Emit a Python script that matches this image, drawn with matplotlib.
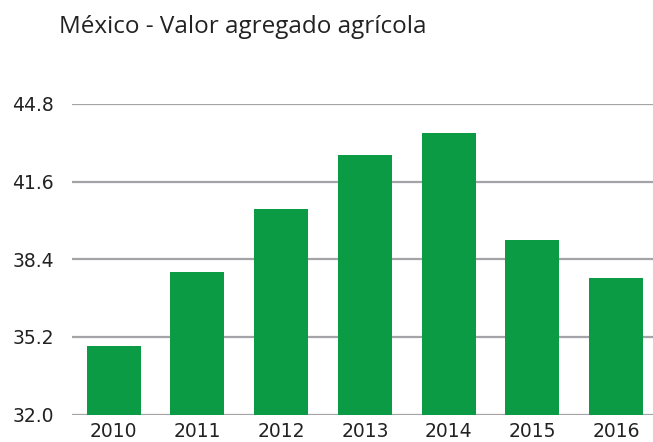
import matplotlib
matplotlib.use("Agg")
import matplotlib.pyplot as plt

green = "#0b9b45"
grid_gray = "#a3a3a8"
text_color = "#222222"

years = ["2010", "2011", "2012", "2013", "2014", "2015", "2016"]
values = [34.83, 37.88, 40.48, 42.70, 43.60, 39.20, 37.63]
yticks = [32.0, 35.2, 38.4, 41.6, 44.8]

plt.rcParams["font.family"] = ["DejaVu Sans"]

fig = plt.figure(figsize=(6.53, 4.42), dpi=100)
ax = fig.add_axes([0.110, 0.062, 0.89, 0.703])

ax.bar(range(len(years)), values, width=0.645, color=green, zorder=3)

ax.set_ylim(32.0, 44.8)
ax.set_xlim(-0.5, 6.44)
ax.set_yticks(yticks)
ax.set_yticklabels([f"{v:.1f}" for v in yticks])
ax.set_xticks(range(len(years)))
ax.set_xticklabels(years)

ax.yaxis.grid(True, color=grid_gray, linewidth=1.6, zorder=0)
ax.set_axisbelow(True)
for s in ax.spines.values():
    s.set_visible(False)
ax.tick_params(axis="both", length=0, labelsize=13.5, colors=text_color)
ax.tick_params(axis="y", pad=13)
ax.tick_params(axis="x", pad=5)

fig.text(0.090, 0.940, "México - Valor agregado agrícola", fontsize=17.5,
         color=text_color, ha="left", va="center", family="Open Sans")

fig.savefig("out.png", dpi=100)
